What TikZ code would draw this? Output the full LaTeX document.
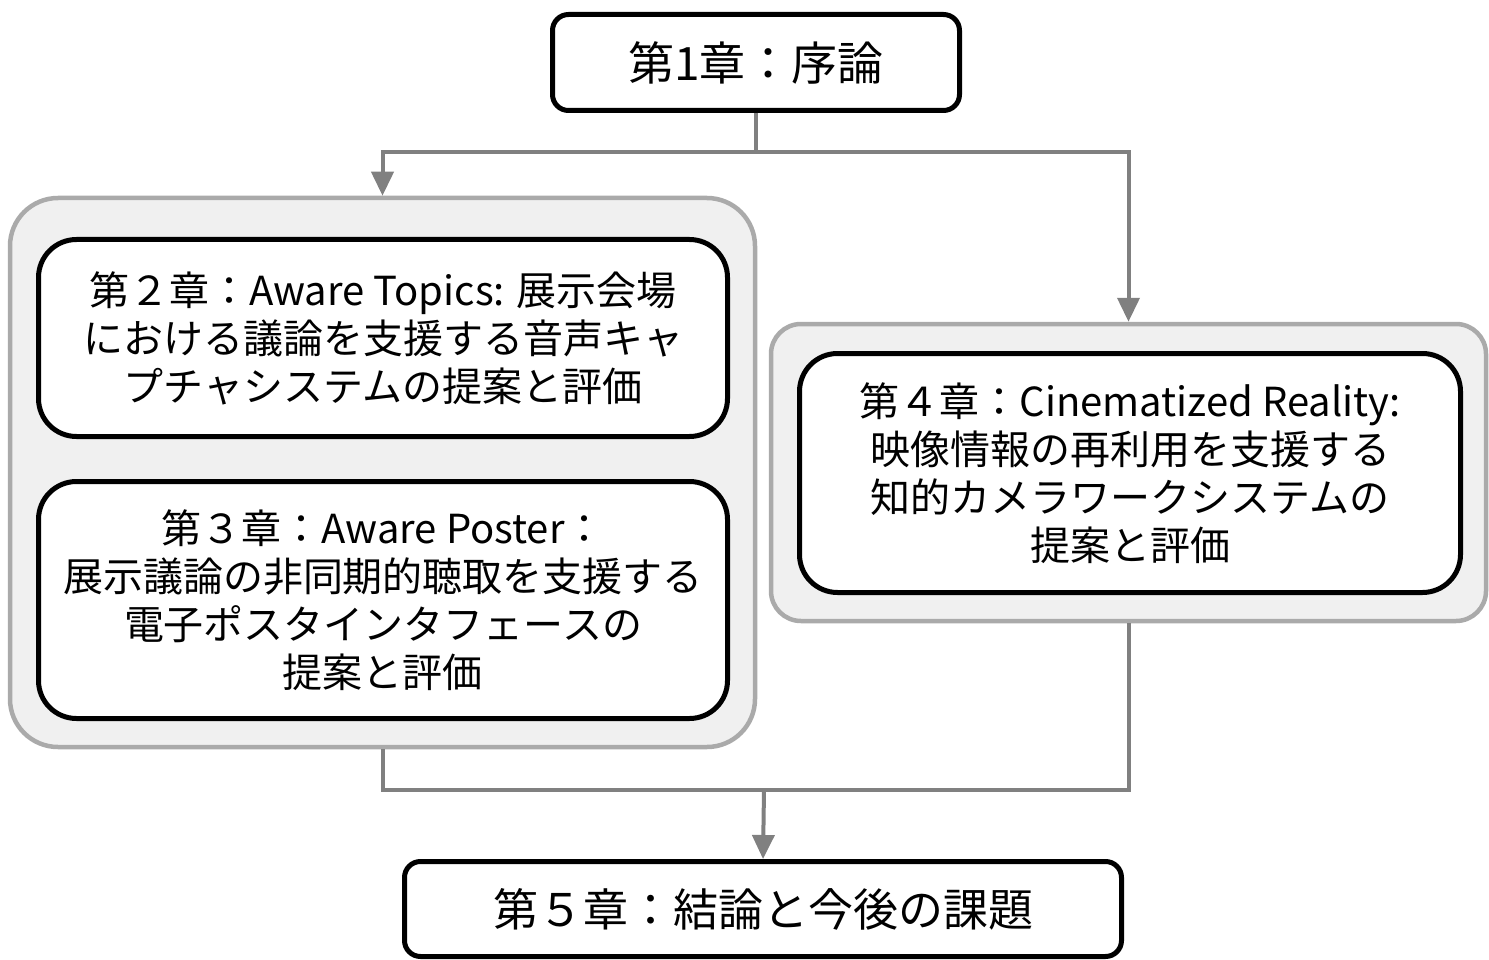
\documentclass[tikz,border=0pt]{standalone}
\usepackage{fontspec}
\setmainfont{Noto Sans CJK JP}
\usetikzlibrary{arrows.meta}
\definecolor{conn}{HTML}{808080}
\definecolor{grpline}{HTML}{AAAAAA}
\definecolor{grpfill}{HTML}{F0F0F0}
\tikzset{
  chapbox/.style={draw=black, line width=5pt, fill=white, rounded corners=#1, align=center, inner sep=0pt},
  chapbox/.default=38pt,
  groupbox/.style={draw=grpline, line width=4.5pt, fill=grpfill, rounded corners=#1, inner sep=0pt},
  groupbox/.default=45pt,
  connector/.style={draw=conn, line width=4pt},
  arrowed/.style={connector, -{Triangle[length=24pt,width=22pt]}, color=conn},
}
\begin{document}
\begin{tikzpicture}[x=1pt, y=-1pt]
\useasboundingbox (0,0) rectangle (1489,960);
% groups
\node[groupbox=48pt, minimum width=745pt, minimum height=549pt] (g1) at (382.5,472.5) {};
\node[groupbox=30pt, minimum width=715pt, minimum height=297pt] (g2) at (1128.5,472.5) {};
% chapter boxes
\node[chapbox=16pt, minimum width=407pt, minimum height=96pt, font=\fontsize{46}{54}\selectfont] (b1) at (756,62.5) {第1章：序論};
\node[chapbox, minimum width=689pt, minimum height=197pt, font=\fontsize{40}{48}\selectfont] (b2) at (383,338)
  {第２章：Aware Topics: 展示会場\\における議論を支援する音声キャ\\プチャシステムの提案と評価};
\node[chapbox, minimum width=689pt, minimum height=237pt, font=\fontsize{40}{48}\selectfont] (b3) at (383,600)
  {第３章：Aware Poster：\\展示議論の非同期的聴取を支援する\\電子ポスタインタフェースの\\提案と評価};
\node[chapbox, minimum width=661pt, minimum height=239pt, font=\fontsize{40}{48}\selectfont] (b4) at (1130,473)
  {第４章：Cinematized Reality:\\映像情報の再利用を支援する\\知的カメラワークシステムの\\提案と評価};
\node[chapbox=16pt, minimum width=717pt, minimum height=95pt, font=\fontsize{45}{54}\selectfont] (b5) at (763,909) {第５章：結論と今後の課題};
% connectors
\coordinate (j1) at (756,152);
\coordinate (j2) at (764,790);
\draw[connector] (b1.south) -- (j1);
\draw[arrowed] (j1) -| (g1.north);
\draw[arrowed] (j1) -| (g2.north);
\draw[connector] (g1.south) |- (j2) -| (g2.south);
\draw[arrowed] (j2) -- (b5.north);
\end{tikzpicture}
\end{document}
